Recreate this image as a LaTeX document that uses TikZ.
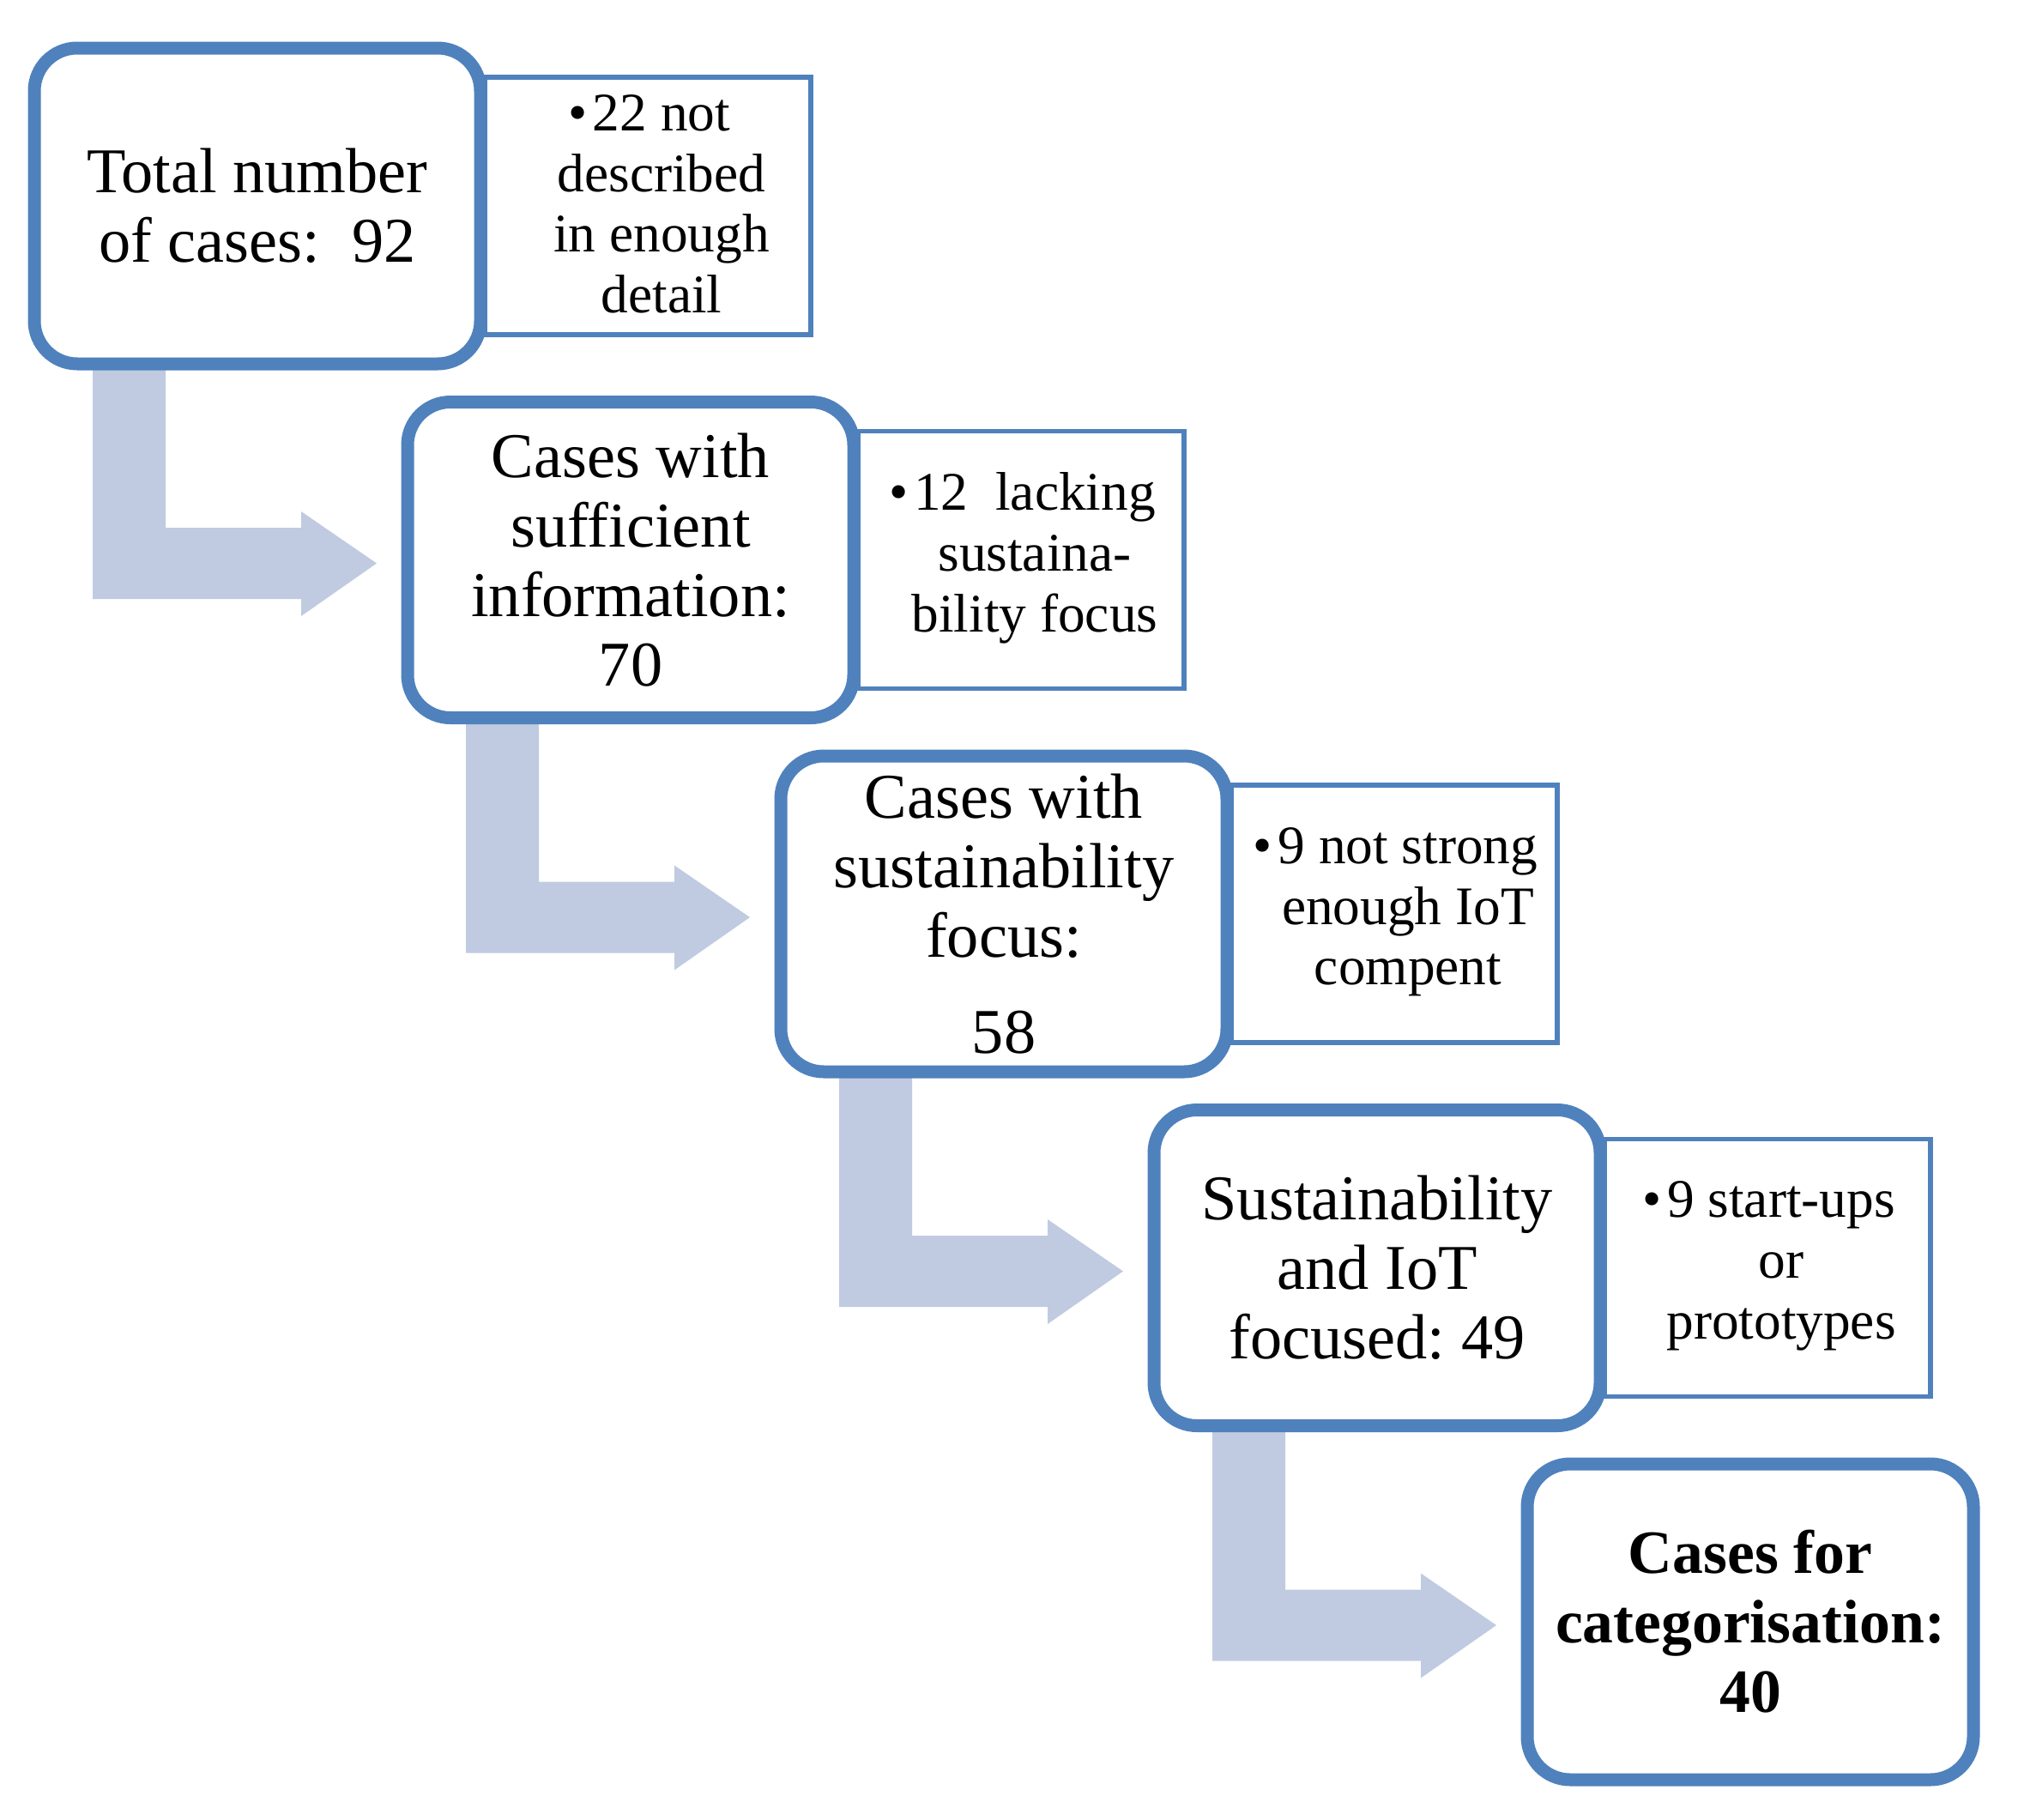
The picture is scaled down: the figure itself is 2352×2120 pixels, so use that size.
\documentclass[tikz,border=0pt]{standalone}
\usepackage{fontspec}
\setmainfont{Liberation Serif}
\usetikzlibrary{calc,backgrounds}
\definecolor{boxblue}{HTML}{4F81BD}
\definecolor{arrowblue}{HTML}{C0CBE1}
\frenchspacing
\begin{document}
\begin{tikzpicture}[x=0.3pt,y=-0.3pt,
  stage/.style={draw=boxblue, line width=4.5pt, rounded corners=15pt, fill=white,
    minimum width=156pt, minimum height=110.4pt, outer sep=0pt, inner sep=0pt,
    align=center, font=\fontsize{22.3}{24.3}\selectfont},
  stagebold/.style={stage, font=\fontsize{21.5}{24.3}\selectfont\bfseries},
  excl/.style={draw=boxblue, line width=1.6pt, fill=white,
    minimum width=114pt, minimum height=90pt, outer sep=0pt, inner sep=0pt},
  excltext/.style={align=center, inner sep=0pt, font=\fontsize{19}{21.2}\selectfont},
  flow/.style={fill=arrowblue, draw=none}]
\useasboundingbox (0,0) rectangle (2352,2120);

% exclusion boxes
\node[excl] (s1) at (755,240) {};
\node[excl] (s2) at (1190,652.5) {};
\node[excl] (s3) at (1625,1065) {};
\node[excl] (s4) at (2060,1477.5) {};

% stage boxes
\node[stage] (b1) at (300,240) {Total number\\of cases:~ 92};
\node[stage] (b2) at (735,652.5) {Cases with\\sufficient\\information:\\70};
\node[stage] (b3) at (1170,1065) {Cases with\\sustainability\\focus:\\[9.5pt]58};
\node[stage] (b4) at (1605,1477.5) {Sustainability\\and IoT\\focused: 49};
\node[stagebold] (b5) at (2040,1890) {Cases for\\categorisation:\\40};

% exclusion texts
\node[excltext] (t1) at ($(s1.center)+(16,-2)$) {\llap{\textbullet\hspace{2pt}}22 not\\described\\in enough\\detail};
\node[excltext] (t2) at ($(s2.center)+(16,-2)$) {\llap{\textbullet\hspace{2pt}}12~ lacking\\sustaina-\\bility focus};
\node[excltext] (t3) at ($(s3.center)+(16,-2)$) {\llap{\textbullet\hspace{2pt}}9 not strong\\enough IoT\\compent};
\node[excltext] (t4) at ($(s4.center)+(16,-2)$) {\llap{\textbullet\hspace{2pt}}9 start-ups\\or\\prototypes};

% bent arrows
\begin{scope}[on background layer]
\foreach \a/\b in {b1/b2,b2/b3,b3/b4,b4/b5}{
  \coordinate (L) at ($(\a.south west)+(68,0)$);
  \coordinate (R) at ($(\a.south west)+(153,0)$);
  \coordinate (H) at ($(\b.west)+(-124,0)$);
  \coordinate (P) at ($(\b.west)+(-36,4)$);
  \coordinate (Yt) at ($(\b.west)+(0,-37.5)$);
  \coordinate (Yb) at ($(\b.west)+(0,45.5)$);
  \coordinate (Ht) at ($(\b.west)+(0,-56.5)$);
  \coordinate (Hb) at ($(\b.west)+(0,65.5)$);
  \fill[flow] (L) -- (R) -- (R |- Yt) -- (H |- Yt) -- (H |- Ht) -- (P)
    -- (H |- Hb) -- (H |- Yb) -- (L |- Yb) -- cycle;
}
\end{scope}
\end{tikzpicture}
\end{document}
